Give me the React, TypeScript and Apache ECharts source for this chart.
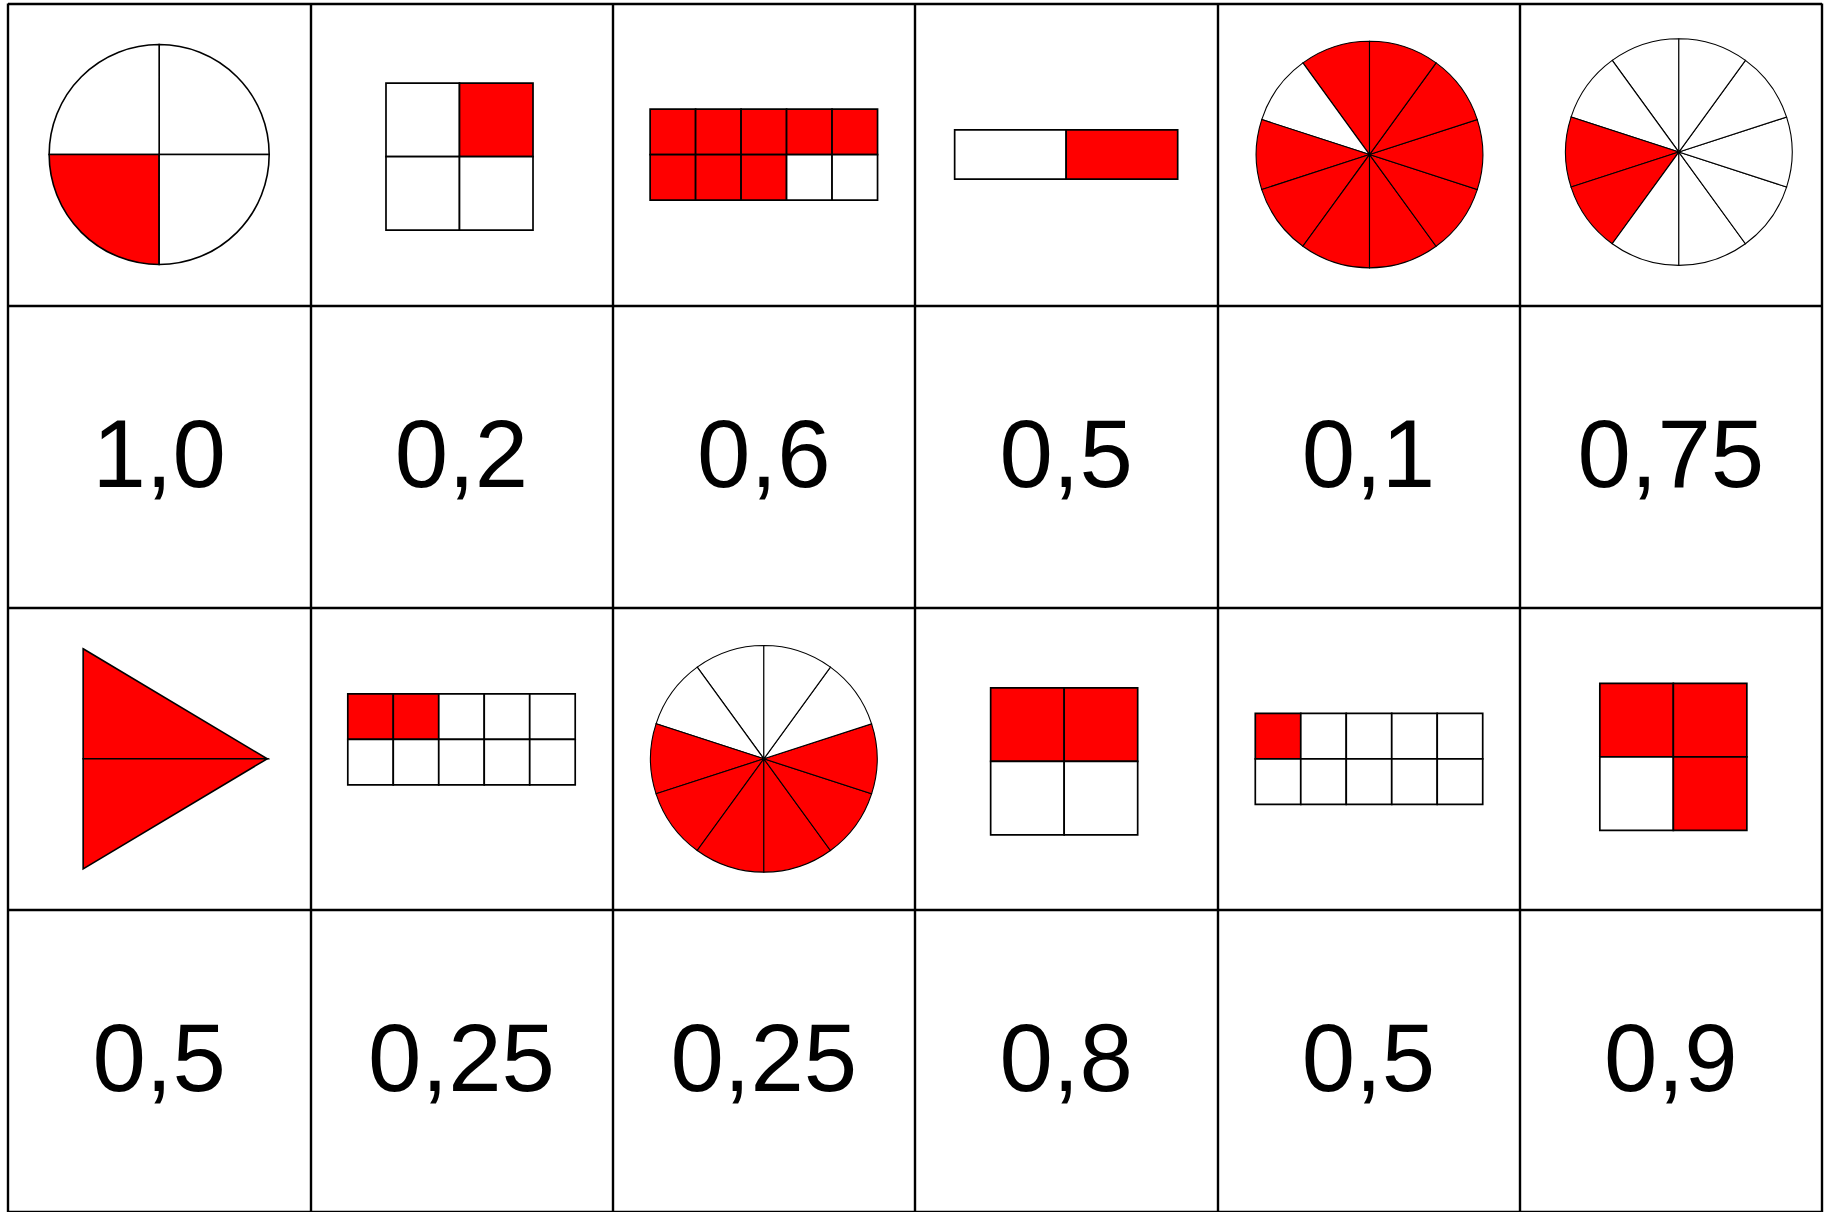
import React, { useEffect, useRef } from 'react';
import * as echarts from 'echarts';

// ---------- data ----------
const gridCols = 6;
const gridRows = 4;

// picture cells (one per cell of rows 0 and 2)
const pictureKinds = ['circle4', 'square2x2', 'grid5x2', 'bar2', 'pie10', 'pie10', 'triangle2', 'grid5x2', 'pie10', 'square2x2', 'grid5x2', 'square2x2'];
const pictureCols = [0, 1, 2, 3, 4, 5, 0, 1, 2, 3, 4, 5];
const pictureRows = [0, 0, 0, 0, 0, 0, 2, 2, 2, 2, 2, 2];
// indexes of the parts that are coloured red
const shadedParts = [
  [2],
  [1],
  [0, 1, 2, 3, 4, 5, 6, 7],
  [1],
  [0, 2, 3, 4, 5, 6, 7, 8, 9],
  [2, 3],
  [0, 1],
  [0, 1],
  [2, 3, 4, 5, 6, 7],
  [0, 1],
  [0],
  [0, 1, 3],
];

// number cells (rows 1 and 3)
const labelTexts = ['1,0', '0,2', '0,6', '0,5', '0,1', '0,75', '0,5', '0,25', '0,25', '0,8', '0,5', '0,9'];
const labelCols = [0, 1, 2, 3, 4, 5, 0, 1, 2, 3, 4, 5];
const labelRows = [1, 1, 1, 1, 1, 1, 3, 3, 3, 3, 3, 3];

// ---------- layout / style ----------
const REF_CELL = 302.3;
const RED = '#ff0000';
const pictureNudge = [
  [0, 0], [-2, 2], [0, 0], [0, 0], [1, 0], [8, -2.5],
  [16, 0], [0, -19.5], [0, 0], [-2, 2.5], [0.5, 0], [2.5, -2],
];
const rectSpecs: Record<string, { cols: number; rows: number; w: number; h: number }> = {
  square2x2: { cols: 2, rows: 2, w: 147, h: 147 },
  grid5x2: { cols: 5, rows: 2, w: 227.4, h: 91 },
  bar2: { cols: 2, rows: 1, w: 223, h: 49.3 },
};

const renderPicture = (params: any, api: any) => {
  const i = params.dataIndex;
  const kind = pictureKinds[i];
  const c = api.coord([api.value(0) + 0.5, api.value(1) + 0.5]);
  const unit = api.size([1, 1]);
  const k = unit[0] / REF_CELL;
  const cx = c[0] + pictureNudge[i][0] * k;
  const cy = c[1] + pictureNudge[i][1] * k;
  const shaded = new Set(shadedParts[i]);
  const fillOf = (p: number) => (shaded.has(p) ? RED : '#ffffff');
  const children: any[] = [];

  if (kind === 'circle4' || kind === 'pie10') {
    const n = kind === 'circle4' ? 4 : 10;
    const r = (kind === 'circle4' ? 110 : 113.3) * k;
    const start = kind === 'circle4' ? 0 : 90;
    for (let p = 0; p < n; p++) {
      const a1 = ((start + (360 / n) * p) * Math.PI) / 180;
      const a2 = ((start + (360 / n) * (p + 1)) * Math.PI) / 180;
      children.push({
        type: 'sector',
        shape: { cx, cy, r, r0: 0, startAngle: -a2, endAngle: -a1, clockwise: true },
        style: { fill: fillOf(p), stroke: '#000', lineWidth: kind === 'circle4' ? 1.6 : 1.1 },
      });
    }
  } else if (kind === 'triangle2') {
    const w = 184 * k;
    const h = 220 * k;
    const x0 = cx - w / 2;
    const x1 = cx + w / 2;
    const yt = cy - h / 2;
    const yb = cy + h / 2;
    children.push({
      type: 'polygon',
      shape: { points: [[x0, yt], [x1, cy], [x0, cy]] },
      style: { fill: fillOf(0), stroke: '#000', lineWidth: 1.6 },
    });
    children.push({
      type: 'polygon',
      shape: { points: [[x0, cy], [x1, cy], [x0, yb]] },
      style: { fill: fillOf(1), stroke: '#000', lineWidth: 1.6 },
    });
  } else {
    const spec = rectSpecs[kind];
    const w = spec.w * k;
    const h = spec.h * k;
    const left = cx - w / 2;
    const top = cy - h / 2;
    const cw = w / spec.cols;
    const ch = h / spec.rows;
    for (let rr = 0; rr < spec.rows; rr++) {
      for (let cc = 0; cc < spec.cols; cc++) {
        const p = rr * spec.cols + cc;
        children.push({
          type: 'rect',
          shape: { x: left + cc * cw, y: top + rr * ch, width: cw, height: ch },
          style: { fill: fillOf(p), stroke: '#000', lineWidth: 1.7 },
        });
      }
    }
  }
  return { type: 'group', children };
};

const renderLabel = (params: any, api: any) => {
  const i = params.dataIndex;
  const c = api.coord([api.value(0) + 0.5, api.value(1) + 0.5]);
  const unit = api.size([1, 1]);
  const k = unit[0] / REF_CELL;
  return {
    type: 'text',
    style: {
      text: labelTexts[i],
      x: c[0],
      y: c[1] - 3 * k,
      align: 'center',
      verticalAlign: 'middle',
      fontSize: 96 * k,
      fontFamily: '"Liberation Sans", Arial, Helvetica, sans-serif',
      fill: '#000000',
    },
  };
};

export default function App() {
  const ref = useRef<HTMLDivElement>(null);

  useEffect(() => {
    if (!ref.current) return;
    const chart = echarts.init(ref.current, undefined, { renderer: 'svg' });
    const hiddenAxis = {
      type: 'value' as const,
      interval: 1,
      axisLine: { show: false },
      axisTick: { show: false },
      axisLabel: { show: false },
      splitLine: { show: true, showMinLine: true, showMaxLine: true, lineStyle: { color: '#000000', width: 2.4 } },
    };
    chart.setOption({
      animation: false,
      backgroundColor: '#ffffff',
      grid: { left: 8, top: 3.5, width: 1814, height: 1209, containLabel: false },
      xAxis: { ...hiddenAxis, min: 0, max: gridCols },
      yAxis: { ...hiddenAxis, min: 0, max: gridRows, inverse: true },
      series: [
        {
          type: 'custom',
          name: 'pictures',
          clip: false,
          silent: true,
          renderItem: renderPicture,
          data: pictureCols.map((c, i) => [c, pictureRows[i]]),
        },
        {
          type: 'custom',
          name: 'labels',
          clip: false,
          silent: true,
          renderItem: renderLabel,
          data: labelCols.map((c, i) => [c, labelRows[i]]),
        },
      ],
    });
    return () => chart.dispose();
  }, []);

  return (
    <div
      ref={ref}
      style={{ position: 'fixed', left: 0, top: 0, width: 1827, height: 1212, background: '#ffffff' }}
    />
  );
}
